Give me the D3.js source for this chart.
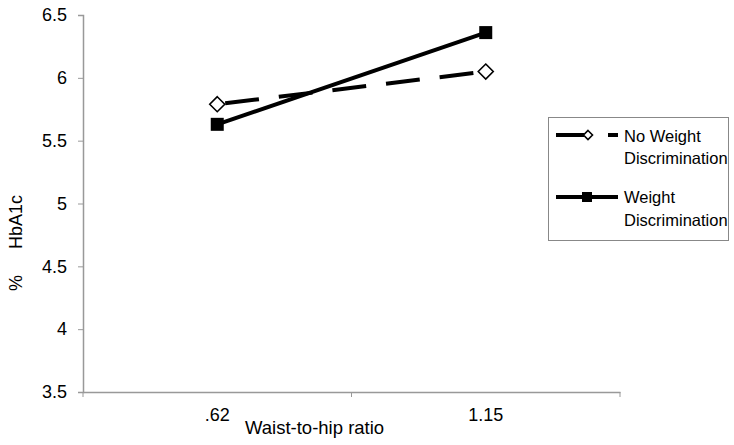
<!DOCTYPE html>
<html><head><meta charset="utf-8">
<script src="https://cdn.jsdelivr.net/npm/d3@7"></script>
<style>body{margin:0;background:#fff}svg{display:block;font-family:"Liberation Sans",Arial,sans-serif}</style>
</head><body><svg id="c" width="734" height="445"></svg>
<script>
const categories = [".62", "1.15"];
const noWeightDisc = [5.79, 6.05];
const weightDisc = [5.63, 6.36];
const yTicks = [3.5, 4, 4.5, 5, 5.5, 6, 6.5];
const seriesNames = ["No Weight Discrimination", "Weight Discrimination"];

const svg = d3.select("#c");
const m = {l: 83, r: 114, t: 15, b: 53};
const W = 734, H = 445;
const x = d3.scaleBand().domain(categories).range([m.l, W - m.r]);
const y = d3.scaleLinear().domain([3.5, 6.5]).range([H - m.b, m.t]);
const axisColor = "#999";
const FF = "Liberation Sans, Arial, sans-serif";

// y axis
const ya = svg.append("g").attr("transform", `translate(${m.l},0)`)
  .call(d3.axisLeft(y).tickValues(yTicks).tickFormat(d3.format("")).tickSize(5).tickPadding(11));
ya.select(".domain").attr("stroke", axisColor).attr("stroke-width", 1.5);
ya.selectAll(".tick line").attr("stroke", axisColor);
ya.selectAll("text").attr("font-size", 18).attr("fill", "#000").attr("font-family", FF);

// x axis
const xa = svg.append("g").attr("transform", `translate(0,${H - m.b})`)
  .call(d3.axisBottom(x).tickSize(0).tickPadding(16));
xa.select(".domain").attr("stroke", axisColor).attr("stroke-width", 1.5);
xa.selectAll("text").attr("font-size", 18).attr("fill", "#000").attr("font-family", FF);
// boundary ticks
const bounds = [m.l, ...categories.slice(1).map(c => x(c)), W - m.r];
svg.append("g").selectAll("line").data(bounds).join("line")
  .attr("x1", d => d).attr("x2", d => d)
  .attr("y1", H - m.b).attr("y2", H - m.b + 5)
  .attr("stroke", axisColor);

const cx = c => x(c) + x.bandwidth() / 2;
const line = d3.line().x((d, i) => cx(categories[i])).y(d => y(d));

// Weight Discrimination (solid)
svg.append("path").datum(weightDisc).attr("d", line)
  .attr("fill", "none").attr("stroke", "#000").attr("stroke-width", 4);
// No Weight Discrimination (dashed)
svg.append("path").datum(noWeightDisc).attr("d", line)
  .attr("fill", "none").attr("stroke", "#000").attr("stroke-width", 4)
  .attr("stroke-dasharray", "34,20").attr("stroke-dashoffset", -8);

// markers
const diamond = (g, px, py, s) => g.append("path")
  .attr("d", `M${px},${py - s}L${px + s},${py}L${px},${py + s}L${px - s},${py}Z`)
  .attr("fill", "#fff").attr("stroke", "#000").attr("stroke-width", 1.6);
noWeightDisc.forEach((v, i) => diamond(svg, cx(categories[i]), y(v), 7.5));
svg.selectAll("rect.sq").data(weightDisc).join("rect").attr("class", "sq")
  .attr("x", (d, i) => cx(categories[i]) - 6.5).attr("y", d => y(d) - 6.5)
  .attr("width", 13).attr("height", 13).attr("fill", "#000");

// axis titles
svg.append("text").attr("x", 245).attr("y", 434).attr("font-size", 18.5).text("Waist-to-hip ratio");
svg.append("text").attr("transform", "translate(22,291) rotate(-90)").attr("font-size", 18).text("%");
svg.append("text").attr("transform", "translate(22,249) rotate(-90)").attr("font-size", 18).text("HbA1c");

// legend
const lg = svg.append("g");
lg.append("rect").attr("x", 548.5).attr("y", 117.5).attr("width", 180).attr("height", 123)
  .attr("fill", "#fff").attr("stroke", "#888").attr("stroke-width", 1);
lg.append("line").attr("x1", 556).attr("x2", 584).attr("y1", 135).attr("y2", 135).attr("stroke", "#000").attr("stroke-width", 4);
lg.append("line").attr("x1", 608).attr("x2", 618).attr("y1", 135).attr("y2", 135).attr("stroke", "#000").attr("stroke-width", 4);
diamond(lg, 588, 135, 4.5);
lg.append("line").attr("x1", 556).attr("x2", 618).attr("y1", 197).attr("y2", 197).attr("stroke", "#000").attr("stroke-width", 4);
lg.append("rect").attr("x", 582).attr("y", 192).attr("width", 10).attr("height", 10).attr("fill", "#000");
const lt = [["No Weight", 142], ["Discrimination", 164], ["Weight", 203], ["Discrimination", 226]];
lg.selectAll("text").data(lt).join("text").attr("x", 624).attr("y", d => d[1])
  .attr("font-size", 16.5).text(d => d[0]);
</script></body></html>
